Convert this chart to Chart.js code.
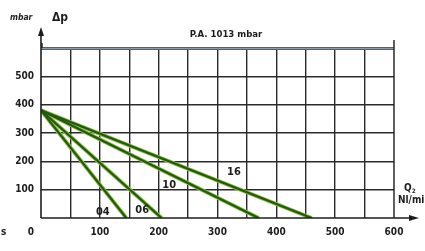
<!DOCTYPE html>
<html>
<head>
<meta charset="utf-8">
<script src="https://cdn.jsdelivr.net/npm/chart.js@4.4.1/dist/chart.umd.min.js"></script>
<style>
html,body{margin:0;padding:0;background:#fff;}
#wrap{width:425px;height:251px;position:relative;}
</style>
</head>
<body>
<div id="wrap"><canvas id="c" width="425" height="251"></canvas></div>
<script>
// ---- data ----
const seriesNames = ['04', '06', '10', '16'];
const startPressure = [380, 380, 380, 380];   // mbar at Q = 0
const zeroFlow = [145, 205, 370, 460];        // Nl/min at Δp = 0
const labelX = [105, 172, 218, 328];          // label anchor (Nl/min)
const labelY = [20, 28, 117, 162];            // label anchor (mbar)
const xTicks = [0, 100, 200, 300, 400, 500, 600];
const yTicks = [100, 200, 300, 400, 500];
const topLine = 600;                           // P.A. 1013 mbar line
const topLabel = 'P.A. 1013 mbar';

const FONT = "'Liberation Sans Narrow','DejaVu Sans Condensed','Roboto Condensed','Liberation Sans',sans-serif";
const INK = '#1c1c1c';

const datasets = [];
seriesNames.forEach((n, i) => {
  const pts = [{x: 0, y: startPressure[i]}, {x: zeroFlow[i], y: 0}];
  datasets.push({label: n + ' halo', data: pts, borderColor: '#8fc043', borderWidth: 4, pointRadius: 0, fill: false, tension: 0, order: 2});
  datasets.push({label: n, data: pts, borderColor: '#235812', borderWidth: 2.2, pointRadius: 0, fill: false, tension: 0, order: 1});
});

const deco = {
  id: 'deco',
  afterDraw(chart) {
    const {ctx, chartArea: a, scales: {x, y}} = chart;
    ctx.save();
    // P.A. line
    const yt = Math.round(y.getPixelForValue(topLine));
    ctx.strokeStyle = '#56636f';
    ctx.lineWidth = 3;
    ctx.beginPath(); ctx.moveTo(a.left, yt + 0.5); ctx.lineTo(a.right, yt + 0.5); ctx.stroke();
    ctx.strokeStyle = '#8e9aa4';
    ctx.lineWidth = 1;
    ctx.beginPath(); ctx.moveTo(a.left, yt + 0.5); ctx.lineTo(a.right, yt + 0.5); ctx.stroke();
    // axis lines
    ctx.strokeStyle = INK;
    ctx.lineWidth = 1.6;
    ctx.beginPath(); ctx.moveTo(a.left, a.bottom); ctx.lineTo(a.left, 31); ctx.stroke();
    ctx.beginPath(); ctx.moveTo(a.left, a.bottom); ctx.lineTo(412, a.bottom); ctx.stroke();
    ctx.lineWidth = 1.4;
    ctx.beginPath(); ctx.moveTo(a.right, a.bottom); ctx.lineTo(a.right, yt - 8); ctx.stroke();
    ctx.beginPath(); ctx.moveTo(a.left + 1, yt - 5); ctx.lineTo(a.left + 1, yt); ctx.stroke();
    // arrows
    ctx.fillStyle = INK;
    ctx.beginPath(); ctx.moveTo(a.left, 27); ctx.lineTo(a.left - 3, 36); ctx.lineTo(a.left + 3, 36); ctx.closePath(); ctx.fill();
    ctx.beginPath(); ctx.moveTo(419, a.bottom); ctx.lineTo(409, a.bottom - 3); ctx.lineTo(409, a.bottom + 3); ctx.closePath(); ctx.fill();
    // texts
    ctx.fillStyle = INK;
    ctx.textBaseline = 'middle';
    ctx.textAlign = 'left';
    ctx.font = 'italic bold 8.5px ' + FONT;
    ctx.fillText('mbar', 10, 18);
    ctx.font = 'bold 12px ' + FONT;
    ctx.fillText('Δp', 52, 18);
    ctx.font = 'bold 9.5px ' + FONT;
    ctx.textAlign = 'center';
    ctx.fillText(topLabel, 226, 35);
    ctx.font = 'bold 10px ' + FONT;
    ctx.fillText('0', 31, 232);
    ctx.textAlign = 'left';
    ctx.fillText('s', 1, 232);
    ctx.font = 'bold 10px ' + FONT;
    ctx.fillText('Q', 404, 188);
    ctx.font = 'bold 6px ' + FONT;
    ctx.fillText('2', 412, 191);
    ctx.font = 'bold 10px ' + FONT;
    ctx.fillText('Nl/min', 398, 200);
    // series labels
    ctx.font = 'bold 11px ' + FONT;
    ctx.textAlign = 'center';
    seriesNames.forEach((n, i) => {
      ctx.fillText(n, x.getPixelForValue(labelX[i]), y.getPixelForValue(labelY[i]));
    });
    ctx.restore();
  }
};

new Chart(document.getElementById('c'), {
  type: 'line',
  data: {datasets},
  options: {
    responsive: false,
    animation: false,
    events: [],
    layout: {padding: {left: 0, right: 31, top: 48, bottom: 0}},
    plugins: {legend: {display: false}, tooltip: {enabled: false}},
    scales: {
      x: {
        type: 'linear', min: 0, max: 600,
        afterFit(s) { s.height = 33; },
        border: {display: false},
        grid: {color: ctx => (ctx.tick && (ctx.tick.value === 0 || ctx.tick.value === 600)) ? 'rgba(0,0,0,0)' : '#2a2a2a', lineWidth: 1.4, drawTicks: false},
        ticks: {
          stepSize: 50, autoSkip: false, maxRotation: 0, padding: 8,
          color: INK, font: {family: FONT, size: 10, weight: 'bold'},
          callback: v => (v !== 0 && xTicks.includes(v)) ? String(v) : ''
        }
      },
      y: {
        type: 'linear', min: 0, max: 600,
        afterFit(s) { s.width = 41; },
        border: {display: false},
        grid: {color: ctx => (ctx.tick && (ctx.tick.value === 0 || ctx.tick.value === topLine)) ? 'rgba(0,0,0,0)' : '#2a2a2a', lineWidth: 1.4, drawTicks: false},
        ticks: {
          stepSize: 100, autoSkip: false, padding: 7,
          color: INK, font: {family: FONT, size: 10, weight: 'bold'},
          callback: v => yTicks.includes(v) ? String(v) : ''
        }
      }
    }
  },
  plugins: [deco]
});
</script>
</body>
</html>
